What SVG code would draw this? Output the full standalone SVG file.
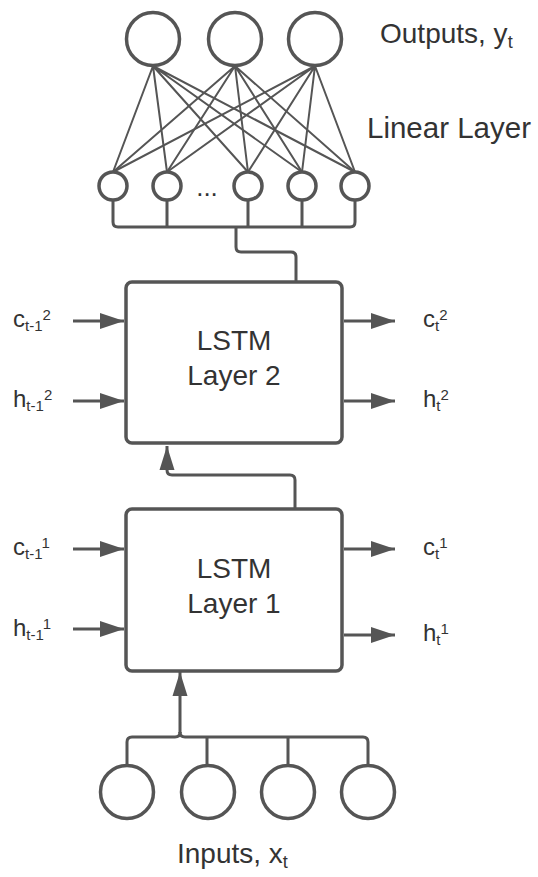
<svg xmlns="http://www.w3.org/2000/svg" width="538" height="877" viewBox="0 0 538 877">
<defs>
<style>
.bg{fill:#fff}
.node{fill:#fff;stroke:#555;stroke-width:3.5}
.box{fill:#fff;stroke:#555;stroke-width:3.5}
.w{fill:none;stroke:#555;stroke-width:2}
.c{fill:none;stroke:#555;stroke-width:3}
.t{font-family:"Liberation Sans",Arial,sans-serif;fill:#333}
.big{font-size:28px}
.lab{font-size:24px}
.s{font-size:15px}
.s2{font-size:18px}
</style>
<marker id="ah" viewBox="0 0 24 16" markerWidth="24" markerHeight="16" refX="24" refY="8" orient="auto" markerUnits="userSpaceOnUse">
<path d="M0,0 L24,8 L0,16 z" fill="#555"/>
</marker>
<marker id="au" viewBox="0 0 24 16" markerWidth="24" markerHeight="16" refX="24" refY="8" orient="auto" markerUnits="userSpaceOnUse">
<path d="M0,0.5 L24,8 L0,15.5 z" fill="#555"/>
</marker>
</defs>
<rect class="bg" x="0" y="0" width="538" height="877"/>

<g id="connectors">
<g class="w">
<path d="M113,172 L153,66 M167,172 L153,66 M248,172 L153,66 M302,172 L153,66 M355,172 L153,66"/>
<path d="M113,172 L235,66 M167,172 L235,66 M248,172 L235,66 M302,172 L235,66 M355,172 L235,66"/>
<path d="M113,172 L315,66 M167,172 L315,66 M248,172 L315,66 M302,172 L315,66 M355,172 L315,66"/>
</g>
<path class="c" d="M113,201 V222 Q113,227 118,227 H350 Q355,227 355,222 V201"/>
<path class="c" d="M167,201 V227 M248,201 V227 M302,201 V227"/>
<path class="c" d="M236,227 V247 Q236,252 241,252 H291 Q296,252 296,257 V282"/>
<path class="c" d="M295,509 V480 Q295,475 290,475 H172 Q167,475 167,470 V446" marker-end="url(#au)"/>
<path class="c" d="M127,765 V742 Q127,737 132,737 H175 Q180,737 180,732"/>
<path class="c" d="M368,765 V742 Q368,737 363,737 H185 Q180,737 180,732"/>
<path class="c" d="M207,765 V737 M288,765 V737"/>
<path class="c" d="M180,733 V672" marker-end="url(#au)"/>
<path class="c" d="M73,321 H124" marker-end="url(#ah)"/>
<path class="c" d="M73,401 H124" marker-end="url(#ah)"/>
<path class="c" d="M344,321 H395" marker-end="url(#ah)"/>
<path class="c" d="M344,401 H395" marker-end="url(#ah)"/>
<path class="c" d="M73,549 H124" marker-end="url(#ah)"/>
<path class="c" d="M73,629 H124" marker-end="url(#ah)"/>
<path class="c" d="M344,549 H395" marker-end="url(#ah)"/>
<path class="c" d="M344,635 H395" marker-end="url(#ah)"/>
</g>

<g id="out1"><circle class="node" cx="153" cy="39" r="26.5"/></g>
<g id="out2"><circle class="node" cx="235" cy="39" r="26.5"/></g>
<g id="out3"><circle class="node" cx="315" cy="39" r="26.5"/></g>

<g id="hid1"><circle class="node" cx="113" cy="186" r="14"/></g>
<g id="hid2"><circle class="node" cx="167" cy="186" r="14"/></g>
<g id="hid3"><circle class="node" cx="248" cy="186" r="14"/></g>
<g id="hid4"><circle class="node" cx="302" cy="186" r="14"/></g>
<g id="hid5"><circle class="node" cx="355" cy="186" r="14"/></g>
<g id="dots"><text class="t" style="font-size:26px" x="207" y="196" text-anchor="middle">...</text></g>

<g id="lstm2">
<rect class="box" x="126" y="282" width="216" height="161" rx="6"/>
<text class="t big" x="234" y="350" text-anchor="middle">LSTM</text>
<text class="t big" x="234" y="385" text-anchor="middle">Layer 2</text>
</g>
<g id="lstm1">
<rect class="box" x="126" y="509" width="216" height="162" rx="6"/>
<text class="t big" x="234" y="578" text-anchor="middle">LSTM</text>
<text class="t big" x="234" y="613" text-anchor="middle">Layer 1</text>
</g>

<g id="in1"><circle class="node" cx="127" cy="792" r="26.5"/></g>
<g id="in2"><circle class="node" cx="208" cy="792" r="26.5"/></g>
<g id="in3"><circle class="node" cx="288" cy="792" r="26.5"/></g>
<g id="in4"><circle class="node" cx="368" cy="792" r="26.5"/></g>

<g id="labels">
<text class="t big" x="380" y="43">Outputs, y<tspan class="s2" dy="5">t</tspan></text>
<text class="t" style="font-size:29.5px" x="367" y="138">Linear Layer</text>
<text class="t big" x="177" y="863">Inputs, x<tspan class="s2" dy="5">t</tspan></text>

<text class="t lab" x="13" y="327">c<tspan class="s" dy="4">t-1</tspan><tspan class="s" dy="-11">2</tspan></text>
<text class="t lab" x="13" y="407">h<tspan class="s" dy="4">t-1</tspan><tspan class="s" dy="-11">2</tspan></text>
<text class="t lab" x="423" y="327">c<tspan class="s" dy="4">t</tspan><tspan class="s" dy="-11">2</tspan></text>
<text class="t lab" x="423" y="407">h<tspan class="s" dy="4">t</tspan><tspan class="s" dy="-11">2</tspan></text>

<text class="t lab" x="13" y="555">c<tspan class="s" dy="4">t-1</tspan><tspan class="s" dy="-11">1</tspan></text>
<text class="t lab" x="13" y="636">h<tspan class="s" dy="4">t-1</tspan><tspan class="s" dy="-11">1</tspan></text>
<text class="t lab" x="423" y="555">c<tspan class="s" dy="4">t</tspan><tspan class="s" dy="-11">1</tspan></text>
<text class="t lab" x="423" y="641">h<tspan class="s" dy="4">t</tspan><tspan class="s" dy="-11">1</tspan></text>
</g>
</svg>
